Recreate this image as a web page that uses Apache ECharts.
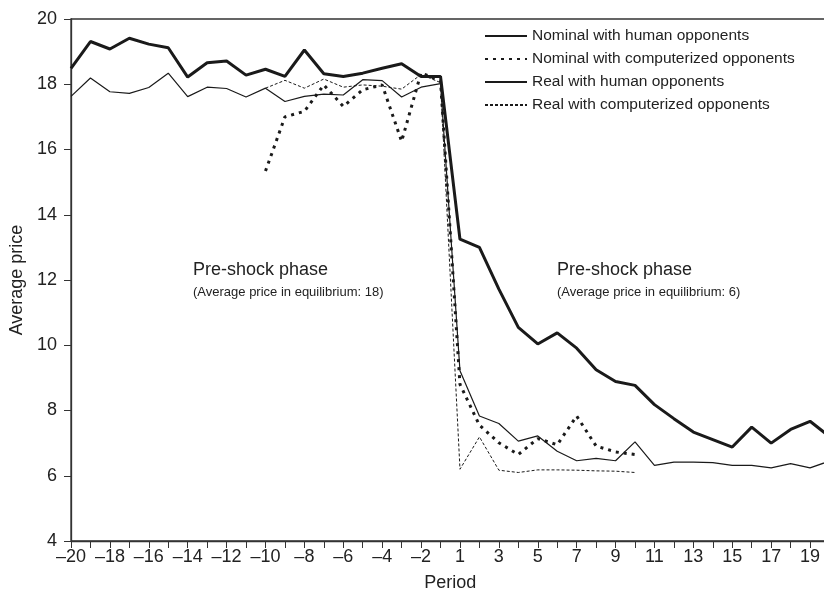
<!DOCTYPE html>
<html>
<head>
<meta charset="utf-8">
<script src="https://cdn.jsdelivr.net/npm/echarts@6/dist/echarts.min.js"></script>
<style>
  html, body { margin: 0; padding: 0; background: #fff; }
  #chart { width: 824px; height: 592px; }
</style>
</head>
<body>
<div id="chart"></div>
<script>
// periods: -20..-1 then 1..20 (no period 0)
const periods = [-20, -19, -18, -17, -16, -15, -14, -13, -12, -11, -10, -9, -8, -7, -6, -5, -4, -3, -2, -1,
  1, 2, 3, 4, 5, 6, 7, 8, 9, 10, 11, 12, 13, 14, 15, 16, 17, 18, 19, 20]

const seriesNames = [
  'Nominal with human opponents',
  'Nominal with computerized opponents',
  'Real with human opponents',
  'Real with computerized opponents'
]

const nominalHuman = [18.49, 19.31, 19.08, 19.41, 19.23, 19.12, 18.22, 18.66, 18.71, 18.28,
  18.46, 18.24, 19.05, 18.32, 18.24, 18.34, 18.49, 18.63, 18.24, 18.24,
  13.25, 13.0, 11.72, 10.55, 10.04, 10.38, 9.91, 9.25, 8.89, 8.77,
  8.18, 7.75, 7.34, 7.11, 6.88, 7.49, 7.0, 7.42, 7.67, 7.2]

const nominalComputer = [null, null, null, null, null, null, null, null, null, null,
  15.34, 17.0, 17.17, 17.98, 17.32, 17.83, 17.98, 16.25, 18.35, 18.1,
  8.8, 7.55, 7.01, 6.65, 7.14, 6.95, 7.83, 6.91, 6.73, 6.65,
  null, null, null, null, null, null, null, null, null, null]

const realHuman = [17.63, 18.19, 17.77, 17.72, 17.9, 18.34, 17.62, 17.91, 17.87, 17.61,
  17.88, 17.47, 17.63, 17.7, 17.67, 18.14, 18.11, 17.61, 17.91, 18.02,
  9.22, 7.83, 7.6, 7.06, 7.22, 6.75, 6.46, 6.53, 6.46, 7.04,
  6.32, 6.42, 6.42, 6.4, 6.32, 6.32, 6.24, 6.37, 6.24, 6.45]

const realComputer = [null, null, null, null, null, null, null, null, null, null,
  17.88, 18.12, 17.88, 18.16, 17.91, 17.98, 17.94, 17.85, 18.3, 18.05,
  6.2, 7.19, 6.17, 6.1, 6.18, 6.18, 6.17, 6.15, 6.14, 6.1,
  null, null, null, null, null, null, null, null, null, null]

const FONT = 'Liberation Sans, Arial, Helvetica, sans-serif'
const INK = '#1a1a1a'

const chart = echarts.init(document.getElementById('chart'))

function lineSeries(name, data, width, type) {
  return {
    name: name,
    type: 'line',
    data: data,
    symbol: 'none',
    connectNulls: false,
    animation: false,
    lineStyle: { color: INK, width: width, type: type, cap: 'butt' },
    itemStyle: { color: INK }
  }
}

chart.setOption({
  backgroundColor: '#fff',
  animation: false,
  grid: {
    left: 71, top: 19, width: 758.5, height: 522,
    outerBoundsMode: 'none',
    containLabel: false,
    show: true, borderColor: '#333', borderWidth: 1.3
  },
  legend: {
    orient: 'vertical',
    left: 479, top: 23,
    itemWidth: 42, itemHeight: 14, itemGap: 7,
    data: seriesNames,
    itemStyle: { opacity: 0 },
    textStyle: { fontFamily: FONT, fontSize: 15.5, color: '#222' }
  },
  xAxis: {
    type: 'category',
    boundaryGap: false,
    data: periods.map(p => p < 0 ? '\u2013' + Math.abs(p) : String(p)),
    name: 'Period',
    nameLocation: 'middle',
    nameGap: 33,
    nameTextStyle: { fontFamily: FONT, fontSize: 18, color: '#222' },
    axisLine: { lineStyle: { color: '#333', width: 1.3 } },
    axisTick: { interval: 0, length: 7, lineStyle: { color: '#333' } },
    axisLabel: { interval: 1, fontFamily: FONT, fontSize: 18, color: '#222', margin: 7 },
    splitLine: { show: false }
  },
  yAxis: {
    type: 'value',
    min: 4, max: 20, interval: 2,
    name: 'Average price',
    nameLocation: 'middle',
    nameGap: 44,
    nameTextStyle: { fontFamily: FONT, fontSize: 18, color: '#222' },
    axisLine: { show: true, lineStyle: { color: '#333', width: 1.3 } },
    axisTick: { show: true, length: 7, lineStyle: { color: '#333' } },
    axisLabel: { fontFamily: FONT, fontSize: 18, color: '#222', margin: 14 },
    splitLine: { show: false }
  },
  graphic: [
    { type: 'text', left: 193, top: 261, style: { text: 'Pre-shock phase', font: '18px ' + FONT, fill: '#222' } },
    { type: 'text', left: 193, top: 286, style: { text: '(Average price in equilibrium: 18)', font: '13px ' + FONT, fill: '#222' } },
    { type: 'text', left: 557, top: 261, style: { text: 'Pre-shock phase', font: '18px ' + FONT, fill: '#222' } },
    { type: 'text', left: 557, top: 286, style: { text: '(Average price in equilibrium: 6)', font: '13px ' + FONT, fill: '#222' } }
  ],
  series: [
    lineSeries(seriesNames[0], nominalHuman, 3, 'solid'),
    lineSeries(seriesNames[1], nominalComputer, 3, [3, 5]),
    lineSeries(seriesNames[2], realHuman, 1.2, 'solid'),
    lineSeries(seriesNames[3], realComputer, 1, [3, 2])
  ]
})
</script>
</body>
</html>
